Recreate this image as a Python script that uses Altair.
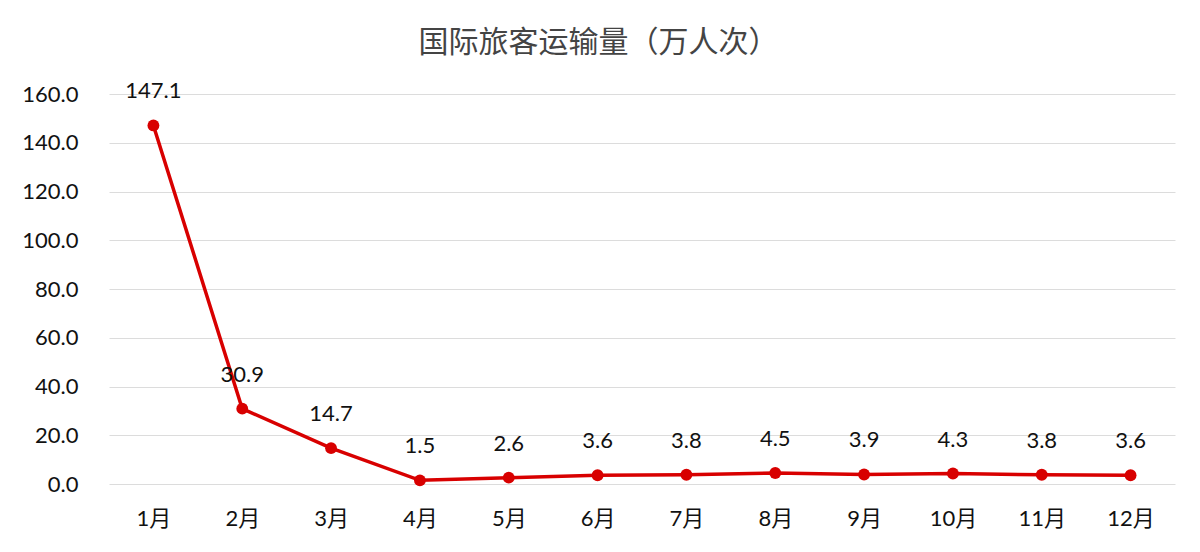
import altair as alt
import pandas as pd

months = ["1月", "2月", "3月", "4月", "5月", "6月", "7月", "8月", "9月", "10月", "11月", "12月"]
values = [147.1, 30.9, 14.7, 1.5, 2.6, 3.6, 3.8, 4.5, 3.9, 4.3, 3.8, 3.6]

df = pd.DataFrame({"month": months, "value": values})

FONT = "Lato, Noto Sans CJK SC"
RED = "#d80000"

base = alt.Chart(df).encode(
    x=alt.X("month:N", sort=months, title=None,
            scale=alt.Scale(paddingInner=0, paddingOuter=0.5),
            axis=alt.Axis(labelAngle=0, domain=False, ticks=False, grid=False, labelPadding=24,
                          labelFontSize=22, labelFont=FONT, labelColor="#111111")),
    y=alt.Y("value:Q", title=None,
            scale=alt.Scale(domain=[0, 160], nice=False),
            axis=alt.Axis(values=[0, 20, 40, 60, 80, 100, 120, 140, 160], format=".1f",
                          domain=False, ticks=False, labelPadding=31,
                          labelFontSize=22, labelFont=FONT, labelColor="#111111",
                          gridColor="#dcdcdc", gridWidth=1)),
)

line = base.mark_line(color=RED, strokeWidth=3.5)
pts = base.mark_circle(color=RED, size=140, opacity=1)
labels = base.mark_text(dy=-34, fontSize=22, font=FONT, color="#111111").encode(
    text=alt.Text("value:Q", format=".1f"))

chart = (line + pts + labels).properties(
    width=1066, height=390,
    view=alt.ViewBackground(stroke=None, strokeWidth=0),
    title=alt.TitleParams("国际旅客运输量（万人次）", fontSize=30, font="Noto Sans CJK SC",
                          fontWeight="normal", color="#444444", offset=22,
                          anchor="middle", frame="bounds"),
    autosize=alt.AutoSizeParams(type="none"),
    padding={"left": 101, "top": 86, "right": 17, "bottom": 60},
).configure_view(strokeWidth=0, stroke=None).configure(background="white")

chart.save("out.html", embed_options={"renderer": "svg", "actions": False})
